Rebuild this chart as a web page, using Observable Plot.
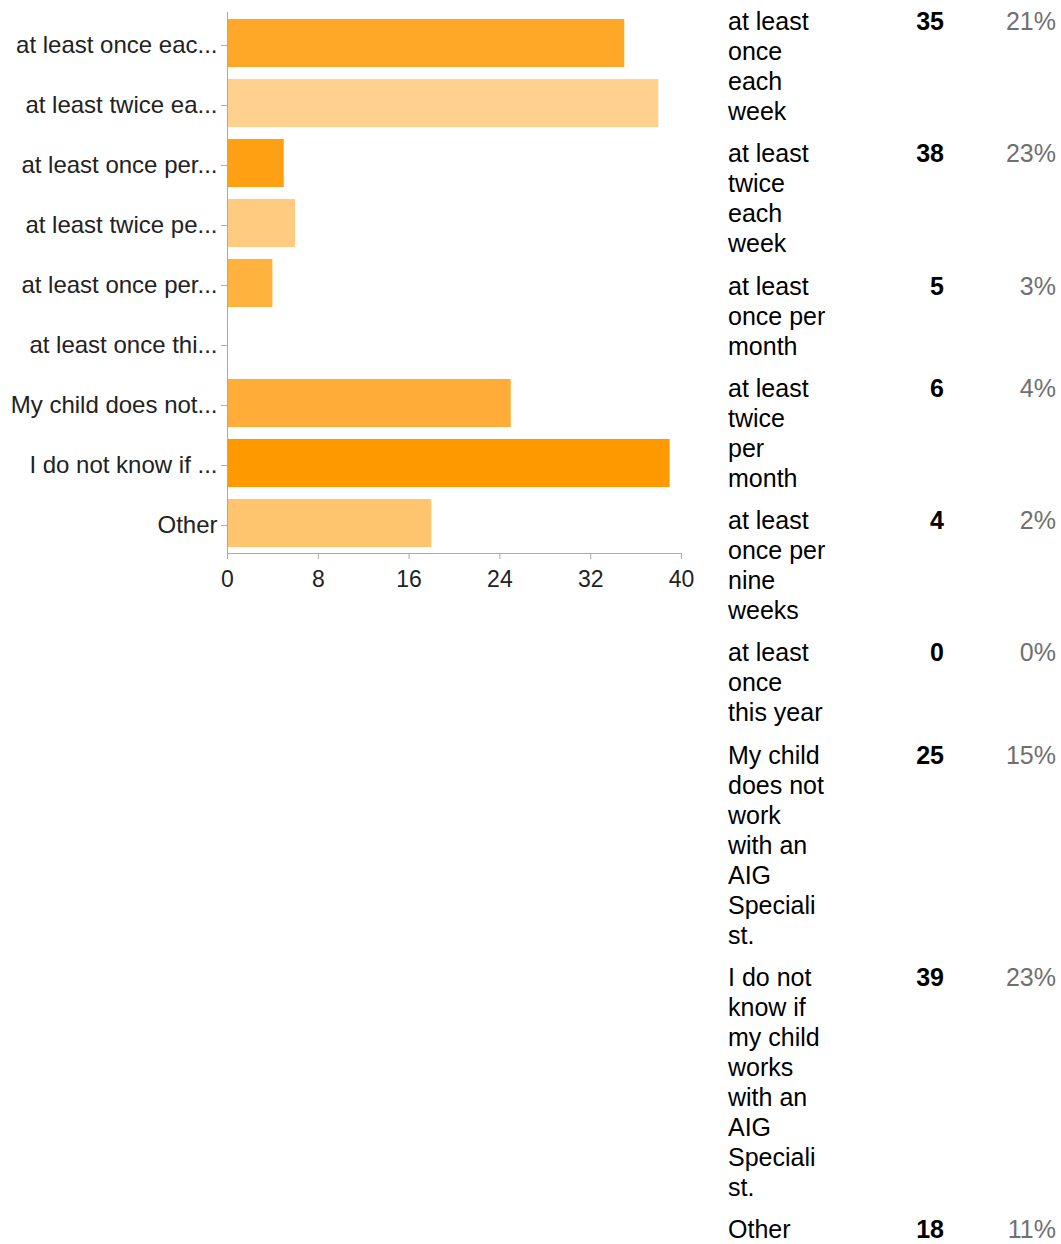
<!DOCTYPE html>
<html>
<head>
<meta charset="utf-8">
<script src="https://cdn.jsdelivr.net/npm/d3@7"></script>
<script src="https://cdn.jsdelivr.net/npm/@observablehq/plot@0.6"></script>
<style>
  html, body { margin: 0; padding: 0; background: #fff; }
  body { width: 1061px; height: 1244px; position: relative; font-family: "Liberation Sans", Arial, sans-serif; }
  #chart { position: absolute; left: 0; top: 0; }
  #table { position: absolute; left: 728px; top: 6px; display: grid;
           grid-template-columns: 98px 118px 112px; row-gap: 12.3px;
           font-size: 25px; line-height: 30px; color: #000; }
  #table .lab { overflow-wrap: anywhere; word-break: break-word; }
  #table .cnt { text-align: right; font-weight: bold; }
  #table .pct { text-align: right; color: #707070; }
</style>
</head>
<body>
<div id="chart"></div>
<div id="table"></div>
<script>
const categories = [
  "at least once each week",
  "at least twice each week",
  "at least once per month",
  "at least twice per month",
  "at least once per nine weeks",
  "at least once this year",
  "My child does not work with an AIG Specialist.",
  "I do not know if my child works with an AIG Specialist.",
  "Other"
];
const counts = [35, 38, 5, 6, 4, 0, 25, 39, 18];
const percents = ["21%", "23%", "3%", "4%", "2%", "0%", "15%", "23%", "11%"];
const barColors = ["#FFA726", "#FFD08E", "#FF9F14", "#FFCB80", "#FFB23E", "#FFB23E", "#FFAC38", "#FF9900", "#FFC46E"];
const xTicks = [0, 8, 16, 24, 32, 40];

const data = categories.map((c, i) => ({category: c, count: counts[i], color: barColors[i]}));
const trunc = s => s.length > 17 ? s.slice(0, 17) + "..." : s;

const chart = Plot.plot({
  width: 700,
  height: 600,
  marginLeft: 227,
  marginRight: 19,
  marginTop: 12,
  marginBottom: 47,
  style: {fontFamily: "Liberation Sans, Arial, sans-serif", fontSize: "23px", color: "#222", background: "#fff"},
  x: {domain: [0, 40], ticks: xTicks},
  y: {domain: categories, paddingInner: 0.2, paddingOuter: 0.1},
  marks: [
    Plot.barX(data, {x: "count", y: "category", fill: "color", insetLeft: 1}),
    Plot.frame({anchor: "left", stroke: "#aaa"}),
    Plot.frame({anchor: "bottom", stroke: "#aaa"}),
    Plot.axisX({ticks: xTicks, tickSize: 6, tickPadding: 11, stroke: "#aaa", fill: "#222", label: null, fontSize: 23}),
    Plot.axisY({tickSize: 6, tickPadding: 4, stroke: "#aaa", fill: "#222", tickFormat: trunc, label: null, fontSize: 24, dy: 2})
  ]
});
document.getElementById("chart").appendChild(chart);

const table = d3.select("#table");
categories.forEach((c, i) => {
  table.append("div").attr("class", "lab").text(c);
  table.append("div").attr("class", "cnt").text(counts[i]);
  table.append("div").attr("class", "pct").text(percents[i]);
});
</script>
</body>
</html>
